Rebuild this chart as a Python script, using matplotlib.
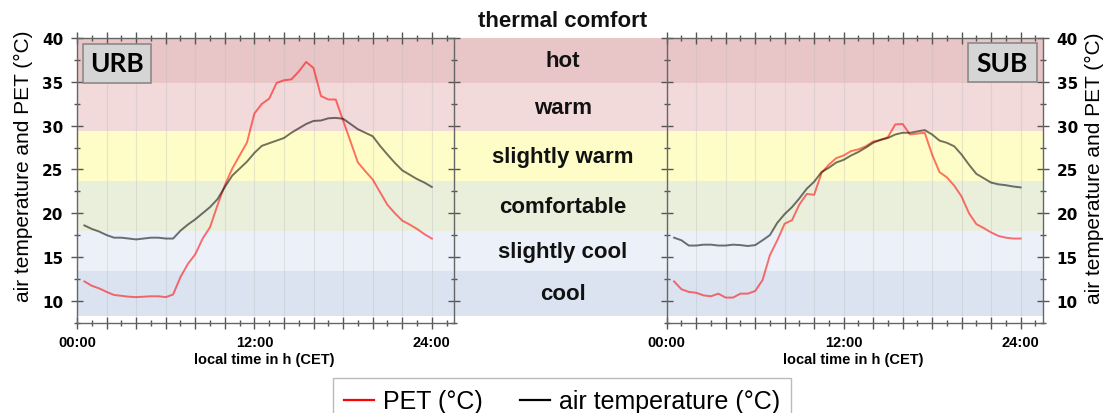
import numpy as np
import matplotlib
matplotlib.use('Agg')
import matplotlib.pyplot as plt
from matplotlib.patches import Rectangle
from matplotlib.lines import Line2D

# ---------------- data ----------------
hours = [0.5 * i for i in range(1, 49)]

urb_air = [18.6, 18.2, 17.9, 17.5, 17.2, 17.2, 17.1, 17.0, 17.1, 17.2, 17.2, 17.1,
           17.1, 18.0, 18.7, 19.3, 20.0, 20.7, 21.6, 23.0, 24.3, 25.1, 25.9, 26.9,
           27.7, 28.0, 28.3, 28.6, 29.2, 29.7, 30.2, 30.55, 30.6, 30.85, 30.9, 30.8,
           30.2, 29.6, 29.2, 28.8, 27.7, 26.7, 25.75, 24.9, 24.4, 23.9, 23.5, 23.0]
urb_pet = [12.2, 11.7, 11.4, 11.0, 10.65, 10.55, 10.45, 10.4, 10.45, 10.5, 10.5, 10.4,
           10.7, 12.7, 14.2, 15.3, 17.1, 18.4, 20.9, 23.2, 25.1, 26.6, 28.1, 31.4,
           32.5, 33.1, 34.9, 35.2, 35.3, 36.2, 37.3, 36.6, 33.4, 33.0, 33.0, 30.6,
           28.2, 25.8, 24.8, 23.85, 22.4, 20.95, 20.0, 19.15, 18.7, 18.2, 17.6, 17.1]
sub_air = [17.2, 16.9, 16.3, 16.3, 16.4, 16.4, 16.3, 16.3, 16.4, 16.35, 16.25, 16.35,
           16.9, 17.5, 18.9, 19.9, 20.7, 21.7, 22.8, 23.6, 24.7, 25.2, 25.8, 26.1,
           26.6, 27.0, 27.5, 28.05, 28.4, 28.6, 29.0, 29.2, 29.2, 29.35, 29.5, 29.0,
           28.3, 28.05, 27.65, 26.7, 25.55, 24.5, 24.0, 23.5, 23.3, 23.2, 23.05, 22.95]
sub_pet = [12.2, 11.3, 11.0, 10.9, 10.6, 10.5, 10.8, 10.35, 10.35, 10.8, 10.8, 11.1,
           12.35, 15.2, 16.9, 18.8, 19.2, 21.0, 22.2, 22.1, 24.6, 25.55, 26.3, 26.6,
           27.1, 27.3, 27.65, 28.2, 28.35, 28.7, 30.15, 30.2, 29.0, 29.1, 29.2, 26.7,
           24.7, 24.1, 23.15, 21.9, 20.0, 18.75, 18.3, 17.8, 17.4, 17.2, 17.1, 17.1]

comfort_labels = ['cool', 'slightly cool', 'comfortable', 'slightly warm', 'warm', 'hot']
comfort_bounds = [8.2, 13.35, 17.95, 23.65, 29.35, 34.9, 40.0]
comfort_colors = ['#dae3ef', '#ecf0f8', '#e9efdb', '#fefdc8', '#f2d9da', '#e8c5c6']

x_major = list(range(0, 25, 2))
x_labels = ['00:00' if v == 0 else '12:00' if v == 12 else '24:00' if v == 24 else '' for v in x_major]
y_major = [10, 15, 20, 25, 30, 35, 40]

# ---------------- layout ----------------
W, H = 1105, 414
fig = plt.figure(figsize=(W / 100, H / 100), dpi=100)


def fx(px):
    return px / W


def fy(py):
    return 1 - py / H


top, bot = 39.3, 323.5
ylim = (7.5, 40)

ax_bg = fig.add_axes([fx(77), fy(bot), (1043 - 77) / W, (bot - top) / H])
ax_bg.set_xlim(0, 1)
ax_bg.set_ylim(*ylim)
ax_bg.axis('off')
for lo, hi, c, lab in zip(comfort_bounds[:-1], comfort_bounds[1:], comfort_colors, comfort_labels):
    ax_bg.axhspan(lo, hi, color=c, lw=0)
    ax_bg.text(0.503, (lo + hi) / 2, lab, ha='center', va='center', fontsize=16,
               fontweight='bold', family='Liberation Sans', color='#111111')

fig.text(fx(563), fy(21.7), 'thermal comfort', ha='center', va='center', fontsize=16,
         fontweight='bold', family='Liberation Sans', color='#111111')


def panel(left_px, right_px, air, pet, name, side, box):
    ax = fig.add_axes([fx(left_px), fy(bot), (right_px - left_px) / W, (bot - top) / H])
    ax.patch.set_visible(False)
    ax.set_xlim(0, 25.5)
    ax.set_ylim(*ylim)
    ax.vlines(x_major, comfort_bounds[0], comfort_bounds[-1], color='#bdbdbd', lw=0.8,
              alpha=0.35, zorder=1)
    ax.plot(hours, pet, color='red', alpha=0.55, lw=1.4, zorder=3)
    ax.plot(hours, air, color='black', alpha=0.55, lw=1.4, zorder=3)

    ax.set_xticks(x_major, labels=x_labels, fontsize=10.5, fontweight='bold',
                  family='Liberation Sans')
    ax.set_xticks(range(0, 26), minor=True)
    ax.set_yticks(y_major, labels=[str(v) for v in y_major], fontsize=11,
                  fontweight='bold', family='DejaVu Sans')
    ax.set_yticks(np.arange(7.5, 40.1, 2.5), minor=True)
    ax.tick_params(which='both', direction='inout', top=True, bottom=True, left=True,
                   right=True, color='#555555', labelcolor='black')
    ax.tick_params(which='major', length=8, width=1)
    ax.tick_params(which='minor', length=5, width=1)
    ax.tick_params(axis='x', pad=5)
    ax.tick_params(axis='y', pad=6)
    if side == 'left':
        ax.tick_params(axis='y', labelleft=True, labelright=False)
    else:
        ax.tick_params(axis='y', labelleft=False, labelright=True)
        ax.yaxis.set_label_position('right')
    for s in ax.spines.values():
        s.set_color('#666666')
        s.set_linewidth(1)

    ax.set_ylabel('air temperature and PET (°C)', fontsize=15, family='Liberation Sans')
    if side == 'left':
        ax.yaxis.set_label_coords(-0.117, 0.552)
    else:
        ax.yaxis.set_label_coords(1.112, 0.547)

    ax.text(0.497, -0.128, 'local time in h (CET)', transform=ax.transAxes, ha='center',
            va='center', fontsize=10.5, fontweight='bold', family='Liberation Sans')

    bx, by, bw, bh = box
    ax.add_patch(Rectangle((bx, by), bw, bh, transform=ax.transAxes, facecolor='#d5d5d5',
                           edgecolor='#8a8a8a', lw=1.2, zorder=5))
    ax.text(bx + bw / 2, by + bh / 2, name, transform=ax.transAxes, ha='center',
            va='center', fontsize=19, fontweight='bold', family='Lato', zorder=6)
    return ax


ax1 = panel(77, 454, urb_air, urb_pet, 'URB', 'left', (0.015, 0.843, 0.180, 0.137))
ax2 = panel(666.7, 1042.7, sub_air, sub_pet, 'SUB', 'right', (0.801, 0.846, 0.1835, 0.137))

handles = [Line2D([], [], color='red', lw=1.6), Line2D([], [], color='black', lw=1.6)]
leg = fig.legend(handles, ['PET (°C)', 'air temperature (°C)'], loc='upper left',
                 bbox_to_anchor=(fx(333), fy(379)), ncol=2, frameon=True, fancybox=False,
                 edgecolor='#aaaaaa', prop={'family': 'Liberation Sans', 'size': 18},
                 handlelength=1.2, handletextpad=0.35, columnspacing=1.5,
                 borderaxespad=0, borderpad=0.45)
leg.get_frame().set_linewidth(1)

fig.savefig('out.png', dpi=100)
